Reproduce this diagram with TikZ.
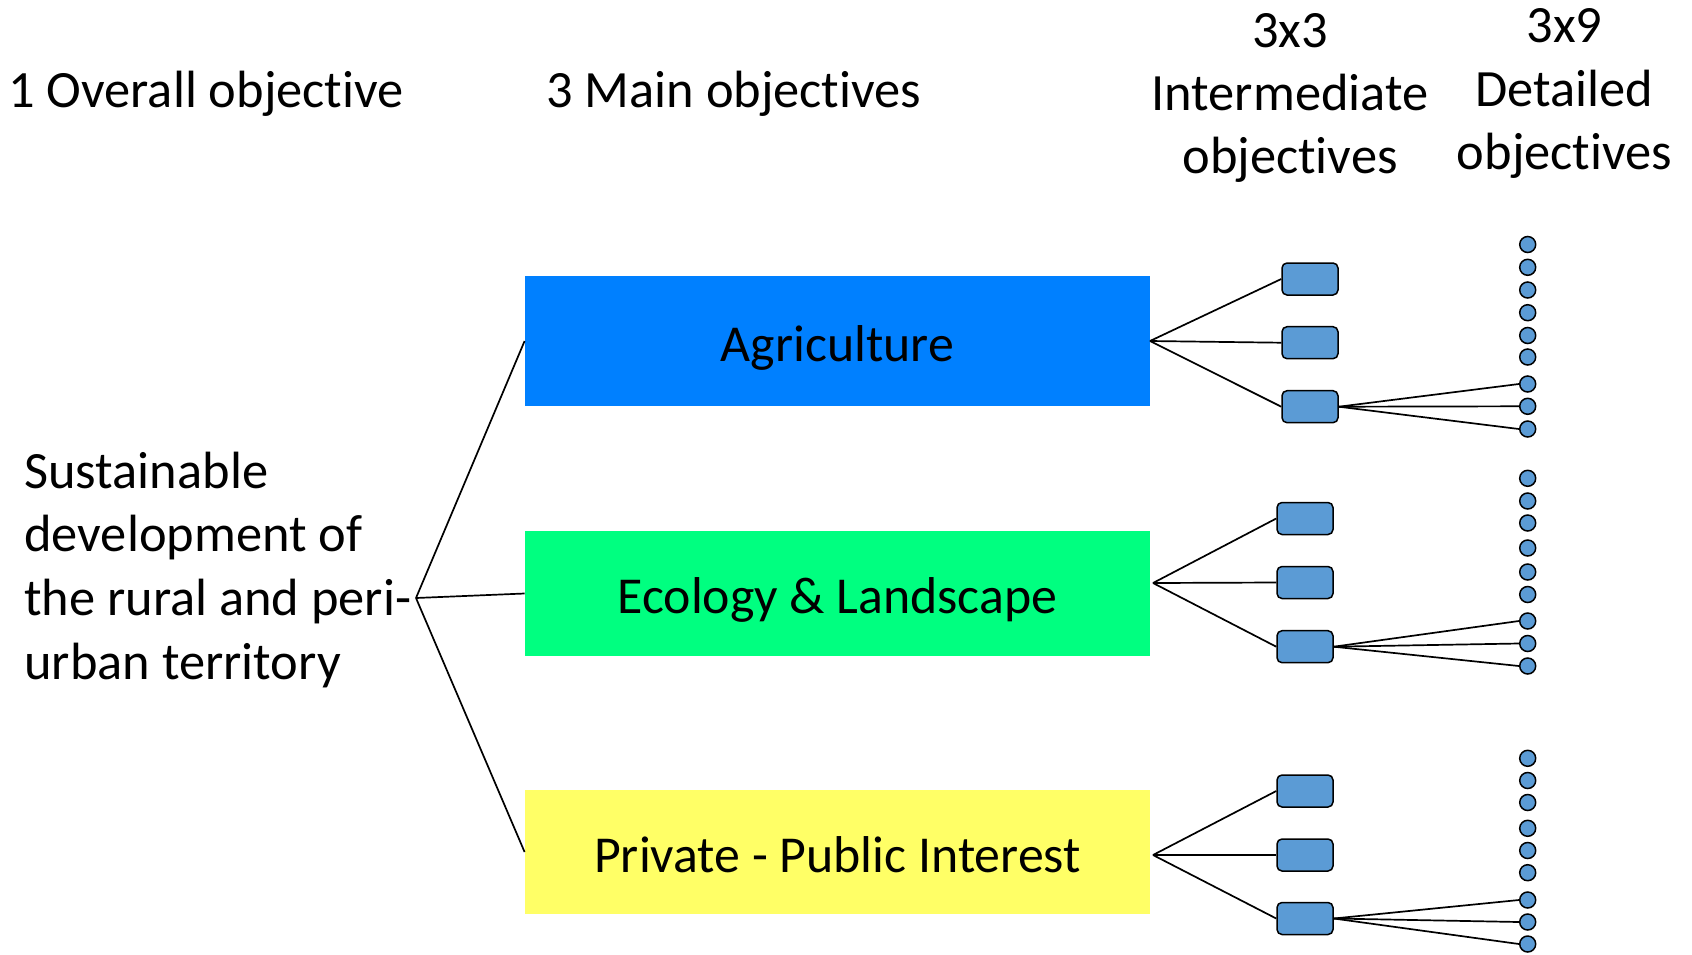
\documentclass[tikz,border=0pt]{standalone}
\usepackage{fontspec}
\setmainfont[Ligatures=NoCommon]{Carlito}
\definecolor{agricol}{RGB}{0,128,255}
\definecolor{ecocol}{RGB}{0,255,128}
\definecolor{privcol}{RGB}{255,255,102}
\definecolor{smallblue}{RGB}{91,155,213}
\begin{document}
\begin{tikzpicture}[x=0.5pt,y=-0.5pt,
  bigfont/.style={font=\fontsize{26.2pt}{31.85pt}\selectfont},
  txt/.style={inner sep=0pt, bigfont},
  mainbox/.style={inner sep=0pt, minimum width=312.5pt, text height=20pt, text depth=0pt, font=\fontsize{25.9pt}{31.85pt}\selectfont},
  ibox/.style={draw=black, line width=0.75pt, fill=smallblue, rounded corners=2.5pt, minimum width=28pt, minimum height=16pt, inner sep=0pt},
  dot/.style={draw=black, line width=0.75pt, fill=smallblue, circle, minimum size=8pt, inner sep=0pt},
  conn/.style={draw=black, line width=0.85pt}]
\useasboundingbox (0,0) rectangle (1692,954);

% headers
\node[txt, anchor=base west] (h1) at (8,107) {1 Overall objective};
\node[txt, anchor=base west] (h2) at (546,107) {3 Main objectives};
\node[txt, anchor=base] (h3a) at (1290,47) {3x3};
\node[txt, anchor=base] (h3b) at (1290,110) {Intermediate};
\node[txt, anchor=base] (h3c) at (1290,173) {objectives};
\node[txt, anchor=base] (h4a) at (1564.5,42) {3x9};
\node[txt, anchor=base] (h4b) at (1564.5,106) {Detailed};
\node[txt, anchor=base] (h4c) at (1564.5,169) {objectives};

% overall objective text
\node[txt, anchor=base west] (o1) at (24,488) {Sustainable};
\node[txt, anchor=base west] (o2) at (24,551.7) {development of};
\node[txt, anchor=base west] (o3) at (24,615.3) {the rural and peri-};
\node[txt, anchor=base west] (o4) at (24,679) {urban territory};
\coordinate (root) at (416,598);

% main boxes
\node[mainbox, fill=agricol, minimum height=65pt] (agri) at (837.5,341) {Agriculture};
\node[mainbox, fill=ecocol, minimum height=62.5pt] (eco) at (837.5,593.5) {Ecology \& Landscape};
\node[mainbox, fill=privcol, minimum height=62pt] (priv) at (837.5,852) {Private - Public Interest};

\draw[conn] (root) -- (agri.west);
\draw[conn] (root) -- (eco.west);
\draw[conn] (root) -- (priv.west);

% fan origins
\coordinate (fa) at (1150,341);
\coordinate (fe) at (1153,583);
\coordinate (fp) at (1153,855);

% intermediate boxes
\foreach \y [count=\i] in {279,342.7,406.7} \node[ibox] (ai\i) at (1310,\y) {};
\foreach \y [count=\i] in {518.5,582.5,646.7} \node[ibox] (ei\i) at (1305,\y) {};
\foreach \y [count=\i] in {791,855,918.5} \node[ibox] (pi\i) at (1305,\y) {};

% detailed circles
\foreach \y [count=\i] in {244.5,267.3,290,312.7,335.5,357,384,406.3,429}
  \node[dot] (ad\i) at (1527.7,\y) {};
\foreach \y [count=\i] in {478.3,501,523,548,572,594.5,621,643.5,666}
  \node[dot] (ed\i) at (1527.7,\y) {};
\foreach \y [count=\i] in {758.3,780.5,802.5,828.3,850.5,872.7,900,922,944}
  \node[dot] (pd\i) at (1527.7,\y) {};

% connectors
\foreach \i in {1,2,3} {
  \draw[conn] (fa) -- (ai\i.west);
  \draw[conn] (fe) -- (ei\i.west);
  \draw[conn] (fp) -- (pi\i.west);
}
\foreach \i in {7,8,9} {
  \draw[conn] (ai3.east) -- (ad\i.west);
  \draw[conn] (ei3.east) -- (ed\i.west);
  \draw[conn] (pi3.east) -- (pd\i.west);
}
\end{tikzpicture}
\end{document}
